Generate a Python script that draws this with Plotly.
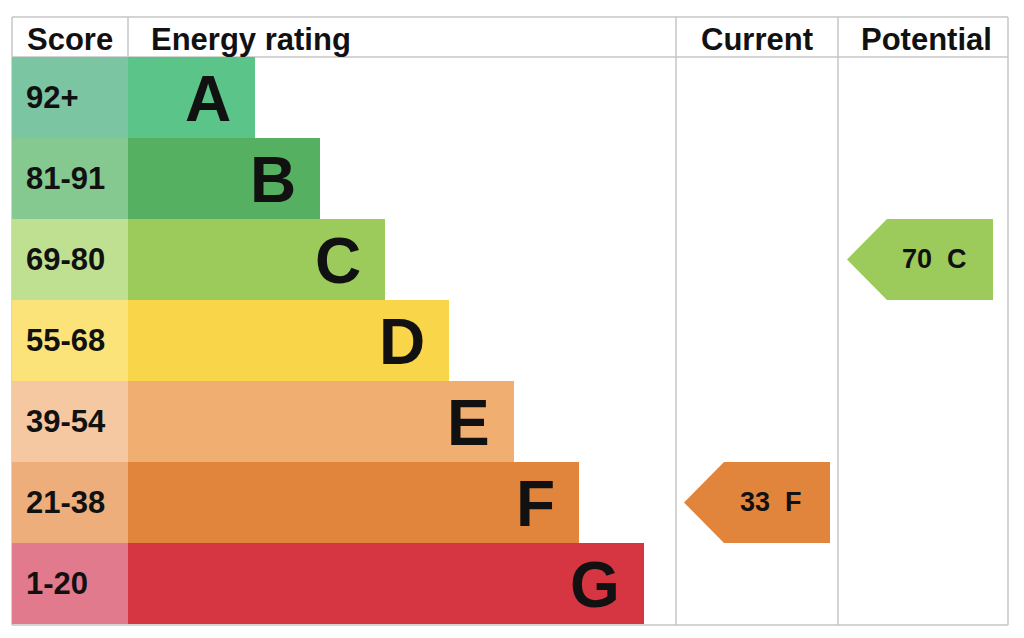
import plotly.graph_objects as go

# EPC bands, top (best) to bottom
letters = ["A", "B", "C", "D", "E", "F", "G"]
score_ranges = ["92+", "81-91", "69-80", "55-68", "39-54", "21-38", "1-20"]
band_min = [92, 81, 69, 55, 39, 21, 1]
bar_colors = ["#5bc589", "#55b062", "#9ccb5b", "#f9d549", "#f1ae71", "#e2853c", "#d63542"]
score_colors = ["#7cc5a2", "#85c890", "#bfdf91", "#fbe37a", "#f5c8a1", "#edae7b", "#e27a8d"]
current_score = 33
potential_score = 70

# layout in screen pixels (x) and row units (y); page body has an 8px margin
PAGE_MARGIN = 8
W, H = 1024, 638
LEFT, RIGHT, TOP, BOTTOM = 12, 1008, 17, 625
HEADER_Y = 57
ROW_H = 81
SCORE_W = 116
BAR_X0 = 128
BAR_LEN0, BAR_STEP = 127, 64.8
CUR_X = (676, 838)
POT_X = (838, 1008)
ARROW_W, ARROW_TIP = 146, 40
FONT = "Liberation Sans"

rows = list(range(len(letters)))
bar_len = [BAR_LEN0 + BAR_STEP * i for i in rows]


def py(p):
    # screen pixel y -> row units (row i centred at i)
    return (p - HEADER_Y) / ROW_H - 0.5


def band_of(score):
    for i, m in enumerate(band_min):
        if score >= m:
            return i
    return len(band_min) - 1


fig = go.Figure()

fig.add_trace(go.Bar(
    y=rows, x=[SCORE_W] * len(rows), base=LEFT, orientation="h",
    marker=dict(color=score_colors, line_width=0), width=1.0,
    hoverinfo="skip", showlegend=False,
))
fig.add_trace(go.Bar(
    y=rows, x=bar_len, base=BAR_X0, orientation="h",
    marker=dict(color=bar_colors, line_width=0), width=1.0,
    hovertext=letters, hoverinfo="text", showlegend=False,
))


def add_arrow(score, x0):
    r = band_of(score)
    tip = x0
    body = tip + ARROW_TIP
    right = tip + ARROW_W
    fig.add_trace(go.Scatter(
        x=[tip, body, right, right, body, tip],
        y=[r, r - 0.5, r - 0.5, r + 0.5, r + 0.5, r],
        fill="toself", fillcolor=bar_colors[r], mode="lines",
        line=dict(width=0, color=bar_colors[r]),
        hoverinfo="skip", showlegend=False,
    ))
    fig.add_annotation(
        x=(body + right) / 2 - 6, y=r - 0.01, text=f"<b>{score}&nbsp;&nbsp;{letters[r]}</b>",
        showarrow=False, xanchor="center", yanchor="middle",
        font=dict(family=FONT, size=27, color="#111111"),
    )


add_arrow(current_score, CUR_X[0] + 8)
add_arrow(potential_score, POT_X[0] + 9)

for i in rows:
    fig.add_annotation(
        x=LEFT + 12, y=i - 0.005, text=f"<b>{score_ranges[i]}</b>", showarrow=False,
        xanchor="left", yanchor="middle",
        font=dict(family=FONT, size=31, color="#111111"),
    )
    fig.add_annotation(
        x=BAR_X0 + bar_len[i] - 22, y=i + 0.02, text=f"<b>{letters[i]}</b>",
        showarrow=False, xanchor="right", yanchor="middle",
        font=dict(family=FONT, size=64, color="#111111"),
    )

# header texts
hy = py((TOP + HEADER_Y) / 2) + 0.03
hfont = dict(family=FONT, size=31, color="#111111")
for x, txt, anchor in [
    ((LEFT + BAR_X0) / 2, "Score", "center"),
    (BAR_X0 + 21, "Energy rating", "left"),
    (sum(CUR_X) / 2, "Current", "center"),
    (sum(POT_X) / 2 + 3, "Potential", "center"),
]:
    fig.add_annotation(x=x, y=hy, text=f"<b>{txt}</b>", showarrow=False,
                       xanchor=anchor, yanchor="middle", font=hfont)

# table grid
grid = dict(color="#c6c6c6", width=1.5)
lines = [
    (LEFT, TOP, RIGHT, TOP),
    (LEFT, HEADER_Y, RIGHT, HEADER_Y),
    (LEFT, BOTTOM, RIGHT, BOTTOM),
    (LEFT, TOP, LEFT, BOTTOM),
    (RIGHT, TOP, RIGHT, BOTTOM),
    (BAR_X0, TOP, BAR_X0, HEADER_Y),
    (CUR_X[0], TOP, CUR_X[0], BOTTOM),
    (POT_X[0], TOP, POT_X[0], BOTTOM),
]
for x0, y0, x1, y1 in lines:
    fig.add_shape(type="line", x0=x0, y0=py(y0), x1=x1, y1=py(y1),
                  line=grid, layer="below")

# figure sits inside the page margin; axes map straight to screen pixels
fw, fh = W - 2 * PAGE_MARGIN, H - 2 * PAGE_MARGIN
fig.update_layout(
    width=fw, height=fh,
    margin=dict(l=0, r=0, t=0, b=0),
    paper_bgcolor="white", plot_bgcolor="white",
    barmode="overlay", bargap=0,
    xaxis=dict(range=[PAGE_MARGIN, PAGE_MARGIN + fw], visible=False, fixedrange=True),
    yaxis=dict(range=[py(PAGE_MARGIN + fh), py(PAGE_MARGIN)], visible=False, fixedrange=True),
)

fig.write_html("out.html")
